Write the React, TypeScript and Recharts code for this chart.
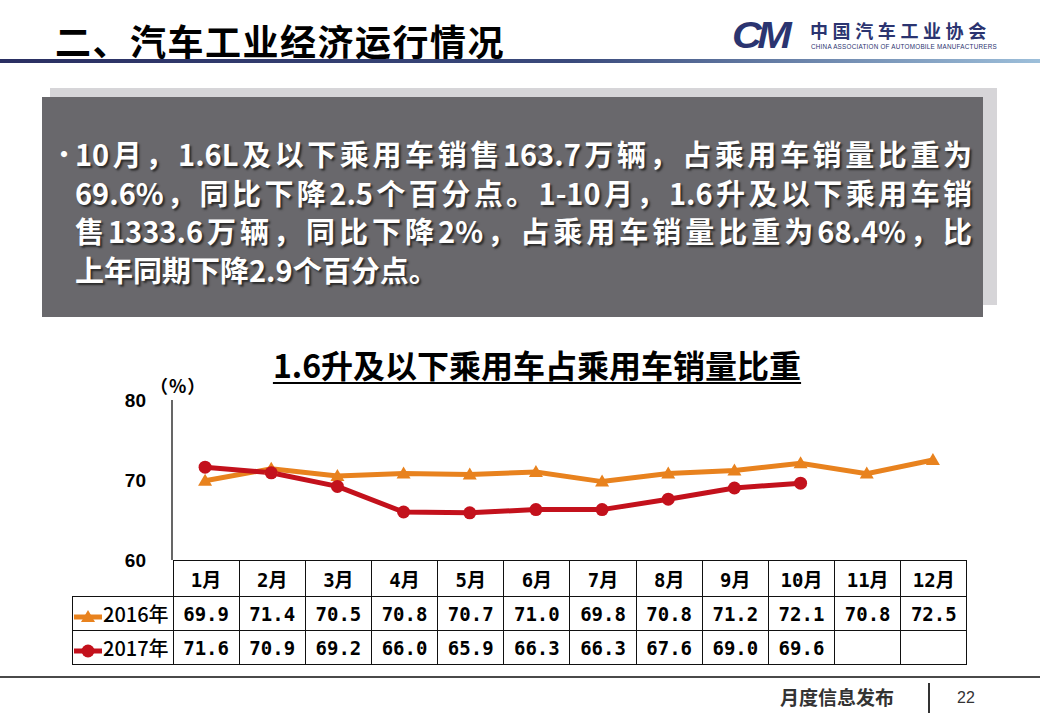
import React from 'react'
import { LineChart, Line, XAxis, YAxis } from 'recharts'

// 1.6L and below passenger car share of passenger car sales (%)
const months = ['1月', '2月', '3月', '4月', '5月', '6月', '7月', '8月', '9月', '10月', '11月', '12月']
const share2016 = [69.9, 71.4, 70.5, 70.8, 70.7, 71.0, 69.8, 70.8, 71.2, 72.1, 70.8, 72.5]
const share2017 = [71.6, 70.9, 69.2, 66.0, 65.9, 66.3, 66.3, 67.6, 69.0, 69.6]
const yTicks = [60, 70, 80]

const ORANGE = '#E8821E'
const RED = '#C3111C'
const CJK = '"Noto Sans CJK SC", "Liberation Sans", sans-serif'
const MONO = '"DejaVu Sans Mono", "Noto Sans CJK SC", monospace'

const chartData = months.map((m, i) => ({
  idx: i + 1,
  month: m,
  y2016: share2016[i] ?? null,
  y2017: share2017[i] ?? null,
}))

const fmt = (v?: number) => (v == null ? '' : v.toFixed(1))

function TriangleDot(props: any) {
  const { cx, cy, index } = props
  if (cx == null || cy == null) return <g key={`t-${index}`} />
  return (
    <polygon
      key={`t-${index}`}
      points={`${cx},${cy - 7} ${cx - 7},${cy + 5} ${cx + 7},${cy + 5}`}
      fill={ORANGE}
    />
  )
}

function LegendMark({ color, shape }: { color: string; shape: 'tri' | 'dot' }) {
  return (
    <svg width={30} height={16} style={{ verticalAlign: 'middle' }}>
      <line x1={1} y1={8} x2={29} y2={8} stroke={color} strokeWidth={5} />
      {shape === 'tri' ? (
        <polygon points="15,1 8,13 22,13" fill={color} />
      ) : (
        <circle cx={15} cy={8} r={6.5} fill={color} />
      )}
    </svg>
  )
}

const bodyLines = [
  '10月，1.6L及以下乘用车销售163.7万辆，占乘用车销量比重为',
  '69.6%，同比下降2.5个百分点。1-10月，1.6升及以下乘用车销',
  '售1333.6万辆，同比下降2%，占乘用车销量比重为68.4%，比',
  '上年同期下降2.9个百分点。',
]

const COL_W = (966 - 172) / 12
const cell: React.CSSProperties = {
  border: '1.5px solid #111',
  width: COL_W,
  padding: 0,
  textAlign: 'center',
  boxSizing: 'border-box',
}

export default function App() {
  return (
    <div style={{ position: 'relative', width: 1040, height: 720, background: '#fff', overflow: 'hidden', fontFamily: CJK }}>
      <style>{'body{margin:0}'}</style>

      {/* header */}
      <div style={{ position: 'absolute', left: 55, top: 18, fontSize: 36, fontWeight: 700, letterSpacing: 1.5, lineHeight: '44px', color: '#000' }}>
        二、汽车工业经济运行情况
      </div>
      <div style={{ position: 'absolute', left: 732, top: 18, fontFamily: '"Liberation Sans", sans-serif', fontStyle: 'italic', fontWeight: 900, fontSize: 36, lineHeight: '36px', letterSpacing: -4, color: '#2B3470', transform: 'scaleX(1.15)', transformOrigin: 'left' }}>
        CM
      </div>
      <div style={{ position: 'absolute', left: 810, top: 19, fontSize: 18, fontWeight: 700, letterSpacing: 4.6, lineHeight: '22px', color: '#2B3470' }}>
        中国汽车工业协会
      </div>
      <div style={{ position: 'absolute', left: 811, top: 43, fontFamily: '"Liberation Sans", sans-serif', fontSize: 6.3, letterSpacing: 0.25, lineHeight: '8px', color: '#2B3470', whiteSpace: 'nowrap' }}>
        CHINA ASSOCIATION OF AUTOMOBILE MANUFACTURERS
      </div>
      <div style={{ position: 'absolute', left: 0, top: 59, width: 1040, height: 4, background: 'linear-gradient(to right, #2A2F62 0%, #3A4A7C 55%, #9DBFDA 100%)' }} />

      {/* summary box */}
      <div style={{ position: 'absolute', left: 50, top: 88, width: 947, height: 217, background: '#D6D5D8' }} />
      <div style={{ position: 'absolute', left: 42, top: 97, width: 941, height: 220, background: '#69686C' }} />
      <div style={{ position: 'absolute', left: 52, top: 134, color: '#fff', fontSize: 24, lineHeight: '38px', fontWeight: 700 }}>•</div>
      {bodyLines.map((t, i) => (
        <div
          key={i}
          style={{
            position: 'absolute',
            left: 75,
            top: 134 + i * 38.5,
            width: 897,
            fontSize: 29,
            fontWeight: 700,
            lineHeight: '38px',
            color: '#fff',
            whiteSpace: 'nowrap',
            textAlign: 'justify',
            textAlignLast: i < 3 ? 'justify' : 'left',
            textShadow: '2px 2px 2px #2a2a2a',
          }}
        >
          {t}
        </div>
      ))}

      {/* chart title */}
      <div style={{ position: 'absolute', left: 0, width: 1074, top: 345, textAlign: 'center', fontSize: 32, fontWeight: 700, lineHeight: '38px', color: '#000', textDecoration: 'underline', textDecorationThickness: 2, textUnderlineOffset: 4 }}>
        1.6升及以下乘用车占乘用车销量比重
      </div>
      <div style={{ position: 'absolute', left: 150, top: 375, fontSize: 18, fontWeight: 700, lineHeight: '20px', letterSpacing: 1, color: '#000' }}>
        （%）
      </div>

      {/* line chart */}
      <div style={{ position: 'absolute', left: 100, top: 380 }}>
        <LineChart width={900} height={200} data={chartData} margin={{ top: 20, right: 34, bottom: 20, left: 0 }}>
          <XAxis dataKey="idx" type="number" domain={[0.5, 12.5]} hide />
          <YAxis
            domain={[60, 80]}
            ticks={yTicks}
            width={72}
            axisLine={{ stroke: '#000', strokeWidth: 1.2 }}
            tickLine={false}
            tickMargin={20}
            tick={{ fill: '#000', fontSize: 19, fontWeight: 700, fontFamily: '"Liberation Sans", Arial, sans-serif' }}
          />
          <Line type="linear" dataKey="y2016" stroke={ORANGE} strokeWidth={5} dot={TriangleDot} isAnimationActive={false} />
          <Line type="linear" dataKey="y2017" stroke={RED} strokeWidth={5} dot={{ r: 6.5, fill: RED, stroke: RED, strokeWidth: 0 }} isAnimationActive={false} />
        </LineChart>
      </div>

      {/* data table */}
      <table style={{ position: 'absolute', left: 72, top: 560, borderCollapse: 'collapse', tableLayout: 'fixed', color: '#000' }}>
        <tbody>
          <tr style={{ height: 36 }}>
            <td style={{ width: 100, padding: 0, border: 'none' }} />
            {months.map((m) => (
              <td key={m} style={{ ...cell, fontFamily: MONO, fontSize: 19, fontWeight: 700 }}>{m}</td>
            ))}
          </tr>
          <tr style={{ height: 34 }}>
            <td style={{ ...cell, width: 100, textAlign: 'left', fontSize: 20, fontWeight: 500, whiteSpace: 'nowrap' }}>
              <LegendMark color={ORANGE} shape="tri" />2016年
            </td>
            {months.map((m, i) => (
              <td key={m} style={{ ...cell, fontFamily: MONO, fontSize: 19, fontWeight: 700 }}>{fmt(share2016[i])}</td>
            ))}
          </tr>
          <tr style={{ height: 34 }}>
            <td style={{ ...cell, width: 100, textAlign: 'left', fontSize: 20, fontWeight: 500, whiteSpace: 'nowrap' }}>
              <LegendMark color={RED} shape="dot" />2017年
            </td>
            {months.map((m, i) => (
              <td key={m} style={{ ...cell, fontFamily: MONO, fontSize: 19, fontWeight: 700 }}>{fmt(share2017[i])}</td>
            ))}
          </tr>
        </tbody>
      </table>

      {/* footer */}
      <div style={{ position: 'absolute', left: 0, top: 676, width: 1040, height: 2, background: '#4a4a4a' }} />
      <div style={{ position: 'absolute', left: 780, top: 685, fontSize: 19, fontWeight: 700, lineHeight: '24px', color: '#333' }}>月度信息发布</div>
      <div style={{ position: 'absolute', left: 928, top: 683, width: 1.5, height: 30, background: '#333' }} />
      <div style={{ position: 'absolute', left: 957, top: 688, fontFamily: '"Liberation Sans", sans-serif', fontSize: 16, lineHeight: '20px', color: '#333' }}>22</div>
    </div>
  )
}
